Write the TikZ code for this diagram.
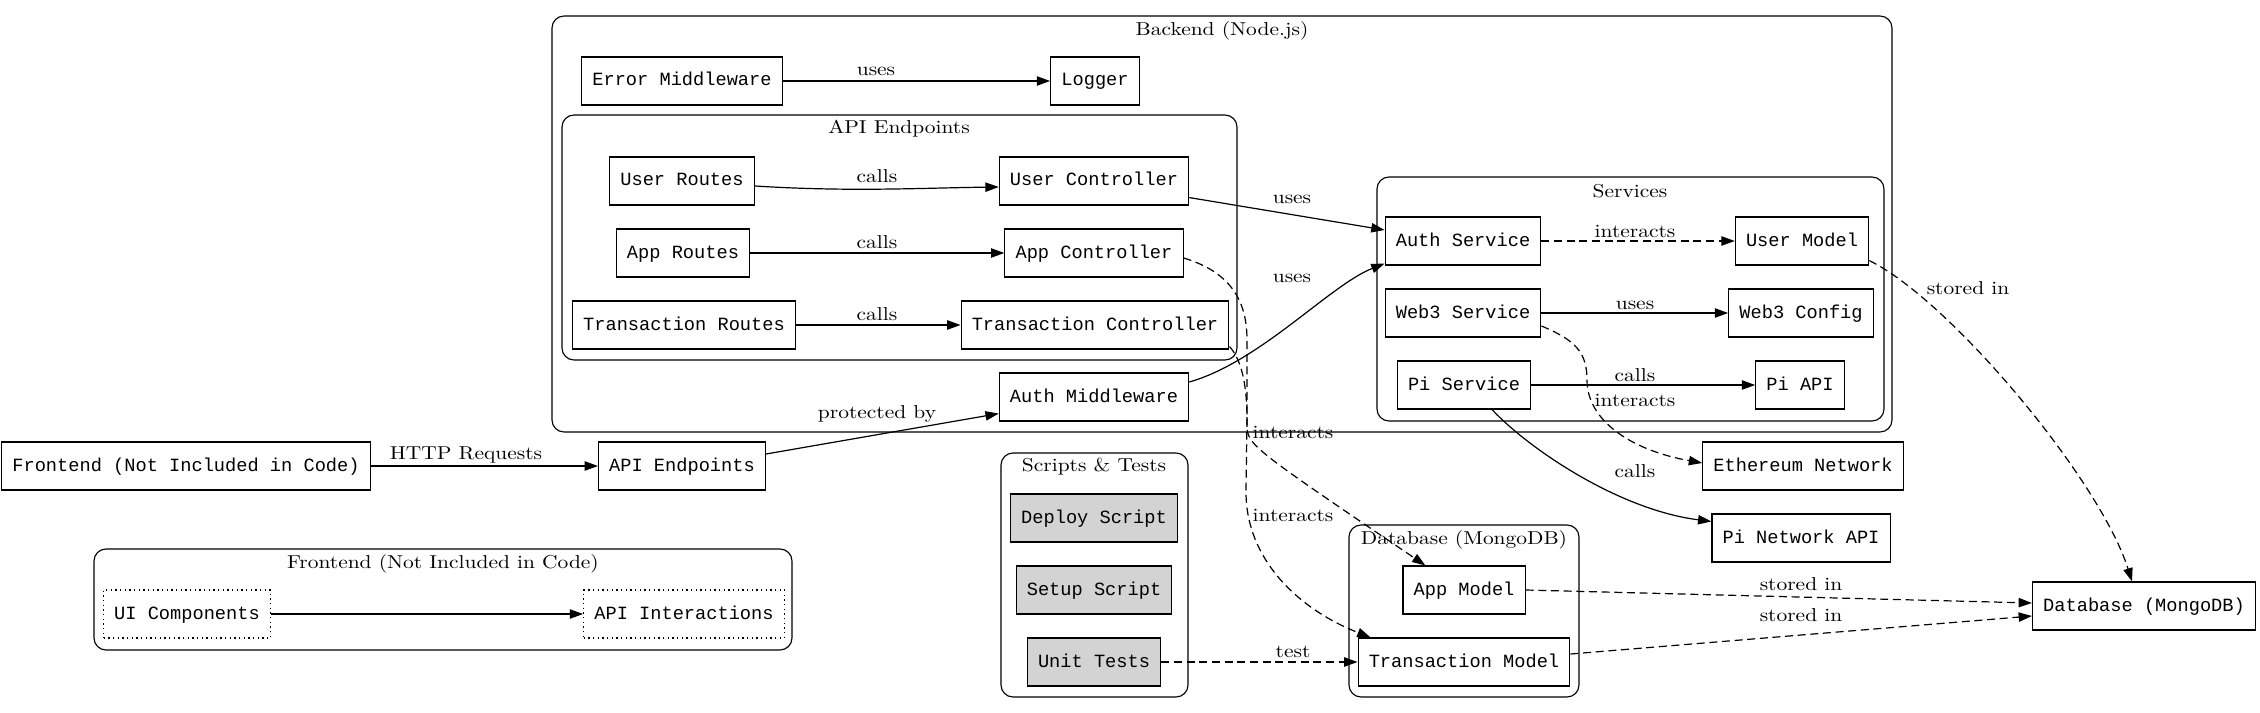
\documentclass[tikz,border=0pt]{standalone}
\usepackage{fontspec}
\newfontfamily\gvserif{lmroman10-regular.otf}[FakeStretch=1.15]
\newfontfamily\gvmono{Liberation Mono}
\usetikzlibrary{arrows.meta}
\definecolor{gvlight}{HTML}{D3D3D3}
\begin{document}
\begin{tikzpicture}[x=0.75pt,y=-0.75pt,
  box/.style={draw, line width=0.85pt, font=\gvmono\fontsize{14}{16}\selectfont, minimum height=36pt, inner xsep=8pt, inner ysep=0pt, text height=10.5pt, text depth=3pt},
  grayb/.style={box, fill=gvlight},
  dotb/.style={box, dash pattern=on 1pt off 2.5pt},
  lbl/.style={font=\gvserif\fontsize{14}{16}\selectfont, inner sep=0pt, text height=10pt, text depth=3pt},
  cluster/.style={draw, line width=0.85pt, rounded corners=9pt},
  edge/.style={line width=0.9pt, -{Triangle[length=10pt,width=7pt]}},
  dedge/.style={edge, dash pattern=on 6pt off 3.5pt},
]
\useasboundingbox[fill=white] (0,0) rectangle (2260,713);

% clusters
\draw[cluster] (552,16) rectangle (1892,432);
\node[lbl] (tbackend) at (1222,31) {Backend (Node.js)};
\draw[cluster] (562,115) rectangle (1237,360);
\node[lbl] (tapi) at (899,129) {API Endpoints};
\draw[cluster] (1377,177) rectangle (1884,421);
\node[lbl] (tsvc) at (1630,193) {Services};
\draw[cluster] (1001,453) rectangle (1188,697);
\node[lbl] (tscripts) at (1094,467) {Scripts \& Tests};
\draw[cluster] (1349,525) rectangle (1579,697);
\node[lbl] (tdb) at (1464,540) {Database (MongoDB)};
\draw[cluster] (94,549) rectangle (792,650);
\node[lbl] (tfront) at (443,564) {Frontend (Not Included in Code)};

% nodes
\node[box] (errmw) at (682,81) {Error Middleware};
\node[box] (logger) at (1095,81) {Logger};
\node[box] (userroutes) at (682,181) {User Routes};
\node[box] (userctrl) at (1094,181) {User Controller};
\node[box] (approutes) at (683,253) {App Routes};
\node[box] (appctrl) at (1094,253) {App Controller};
\node[box] (txroutes) at (684,325) {Transaction Routes};
\node[box] (txctrl) at (1095,325) {Transaction Controller};
\node[box] (authmw) at (1094,397) {Auth Middleware};
\node[box] (authsvc) at (1463,241) {Auth Service};
\node[box] (usermodel) at (1802,241) {User Model};
\node[box] (web3svc) at (1463,313) {Web3 Service};
\node[box] (web3cfg) at (1801,313) {Web3 Config};
\node[box] (pisvc) at (1464,385) {Pi Service};
\node[box] (piapi) at (1800,385) {Pi API};
\node[box] (frontend) at (186,466) {Frontend (Not Included in Code)};
\node[box] (apiep) at (682,466) {API Endpoints};
\node[grayb] (deploy) at (1094,518) {Deploy Script};
\node[grayb] (setup) at (1094,590) {Setup Script};
\node[grayb] (unit) at (1094,662) {Unit Tests};
\node[box] (eth) at (1803,466) {Ethereum Network};
\node[box] (pinet) at (1801,538) {Pi Network API};
\node[box] (appmodel) at (1464,590) {App Model};
\node[box] (txmodel) at (1464,662) {Transaction Model};
\node[box] (db) at (2144,606) {Database (MongoDB)};
\node[dotb] (ui) at (187,614) {UI Components};
\node[dotb] (apiint) at (684,614) {API Interactions};

% edges
\draw[edge] (errmw) -- (logger);
\draw[edge] ([yshift=-3.75pt]userroutes.east) .. controls (850,192) and (920,188) .. ([yshift=-4.5pt]userctrl.west);
\draw[edge] (approutes) -- (appctrl);
\draw[edge] (txroutes) -- (txctrl);
\draw[edge] ([yshift=6pt]userctrl.south east) -- ([yshift=8.25pt]authsvc.west);
\draw[edge] ([yshift=11.25pt]authmw.east) .. controls (1260,362) and (1330,285) .. ([yshift=1.5pt]authsvc.south west);
\draw[dedge] (authsvc) -- (usermodel);
\draw[edge] (web3svc) -- (web3cfg);
\draw[edge] (pisvc) -- (piapi);
\draw[dedge] ([yshift=-9.75pt]web3svc.east) .. controls (1575,340) and (1587,352) .. (1587,380) .. controls (1587,420) and (1630,450) .. ([yshift=2.25pt]eth.west);
\draw[edge] ([xshift=21pt]pisvc.south) .. controls (1530,450) and (1620,510) .. ([yshift=-6pt]pinet.north west);
\draw[edge] (frontend) -- (apiep);
\draw[edge] ([yshift=9pt]apiep.east) -- ([yshift=6pt]authmw.south west);
\draw[dedge] ([yshift=3.75pt]usermodel.south east) .. controls (1950,300) and (2100,480) .. ([xshift=-9pt]db.north);
\draw[dedge] (appmodel.east) -- ([yshift=2.25pt]db.west);
\draw[dedge] ([yshift=6pt]txmodel.east) -- ([yshift=-7.5pt]db.west);
\draw[dedge] ([yshift=-3.75pt]appctrl.east) .. controls (1230,272) and (1247,300) .. (1247,340) -- (1247,425) .. controls (1247,445) and (1252,448) .. ([xshift=17.25pt]appmodel.north west);
\draw[dedge] ([yshift=2.25pt]txctrl.south east) .. controls (1240,358) and (1247,380) .. (1247,420) -- (1246,490) .. controls (1245,560) and (1300,610) .. ([xshift=9.75pt]txmodel.north west);
\draw[dedge] (unit) -- (txmodel);
\draw[edge] (ui) -- (apiint);

% edge labels
\node[lbl] (l1) at (876,71) {uses};
\node[lbl] (l2) at (877,178) {calls};
\node[lbl] (l3) at (877,244) {calls};
\node[lbl] (l4) at (877,316) {calls};
\node[lbl] (l5) at (877,414) {protected by};
\node[lbl] (l6) at (1292,199) {uses};
\node[lbl] (l7) at (1292,278) {uses};
\node[lbl] (l8) at (1293,434) {interacts};
\node[lbl] (l9) at (1293,517) {interacts};
\node[lbl] (l10) at (1293,653) {test};
\node[lbl] (l11) at (1635,233) {interacts};
\node[lbl] (l12) at (1635,305) {uses};
\node[lbl] (l13) at (1635,377) {calls};
\node[lbl] (l14) at (1635,402) {interacts};
\node[lbl] (l15) at (1635,473) {calls};
\node[lbl] (l16) at (1968,290) {stored in};
\node[lbl] (l17) at (1801,586) {stored in};
\node[lbl] (l18) at (1801,617) {stored in};
\node[lbl] (l19) at (466,455) {HTTP Requests};
\end{tikzpicture}
\end{document}
